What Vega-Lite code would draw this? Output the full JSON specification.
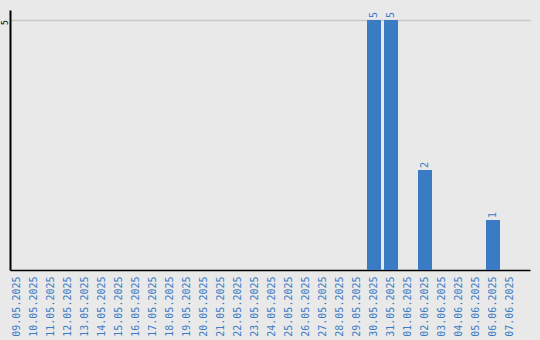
{
  "$schema": "https://vega.github.io/schema/vega-lite/v6.json",
  "width": 520,
  "height": 260,
  "autosize": {"type": "none"},
  "padding": {"left": 10, "top": 10, "right": 10, "bottom": 70},
  "background": "#e9e9e9",
  "config": {
    "view": {"stroke": null},
    "font": "DejaVu Sans Mono"
  },
  "data": {
    "values": [
      {"date": "09.05.2025", "count": 0},
      {"date": "10.05.2025", "count": 0},
      {"date": "11.05.2025", "count": 0},
      {"date": "12.05.2025", "count": 0},
      {"date": "13.05.2025", "count": 0},
      {"date": "14.05.2025", "count": 0},
      {"date": "15.05.2025", "count": 0},
      {"date": "16.05.2025", "count": 0},
      {"date": "17.05.2025", "count": 0},
      {"date": "18.05.2025", "count": 0},
      {"date": "19.05.2025", "count": 0},
      {"date": "20.05.2025", "count": 0},
      {"date": "21.05.2025", "count": 0},
      {"date": "22.05.2025", "count": 0},
      {"date": "23.05.2025", "count": 0},
      {"date": "24.05.2025", "count": 0},
      {"date": "25.05.2025", "count": 0},
      {"date": "26.05.2025", "count": 0},
      {"date": "27.05.2025", "count": 0},
      {"date": "28.05.2025", "count": 0},
      {"date": "29.05.2025", "count": 0},
      {"date": "30.05.2025", "count": 5},
      {"date": "31.05.2025", "count": 5},
      {"date": "01.06.2025", "count": 0},
      {"date": "02.06.2025", "count": 2},
      {"date": "03.06.2025", "count": 0},
      {"date": "04.06.2025", "count": 0},
      {"date": "05.06.2025", "count": 0},
      {"date": "06.06.2025", "count": 1},
      {"date": "07.06.2025", "count": 0}
    ]
  },
  "encoding": {
    "x": {
      "field": "date",
      "type": "ordinal",
      "sort": null,
      "scale": {"paddingInner": 0.176, "paddingOuter": 0.382, "align": 0},
      "axis": {
        "title": null,
        "labelAngle": -90,
        "labelAlign": "right",
        "labelBaseline": "middle",
        "labelColor": "#3a7cc6",
        "labelFont": "DejaVu Sans Mono",
        "labelFontSize": 10,
        "labelPadding": 6,
        "ticks": false,
        "domainColor": "#000000",
        "domainWidth": 1.5,
        "grid": false
      }
    },
    "y": {
      "field": "count",
      "type": "quantitative",
      "scale": {"domain": [0, 5.2], "nice": false},
      "axis": {
        "title": null,
        "values": [5],
        "labelAngle": -90,
        "labelAlign": "center",
        "labelBaseline": "alphabetic",
        "labelColor": "#000000",
        "labelFont": "DejaVu Sans Mono",
        "labelFontSize": 8,
        "labelPadding": 3,
        "labelOffset": 2,
        "ticks": false,
        "domainColor": "#000000",
        "domainWidth": 2,
        "grid": true,
        "gridColor": "#c8c8c8",
        "gridWidth": 1.5
      }
    }
  },
  "layer": [
    {
      "mark": {"type": "bar", "color": "#3a7cc4"}
    },
    {
      "transform": [{"filter": "datum.count > 0"}],
      "mark": {
        "type": "text",
        "angle": 270,
        "align": "left",
        "baseline": "middle",
        "dx": 2,
        "font": "DejaVu Sans Mono",
        "fontSize": 10,
        "color": "#3a7cc6"
      },
      "encoding": {
        "text": {"field": "count", "type": "quantitative"}
      }
    }
  ]
}
